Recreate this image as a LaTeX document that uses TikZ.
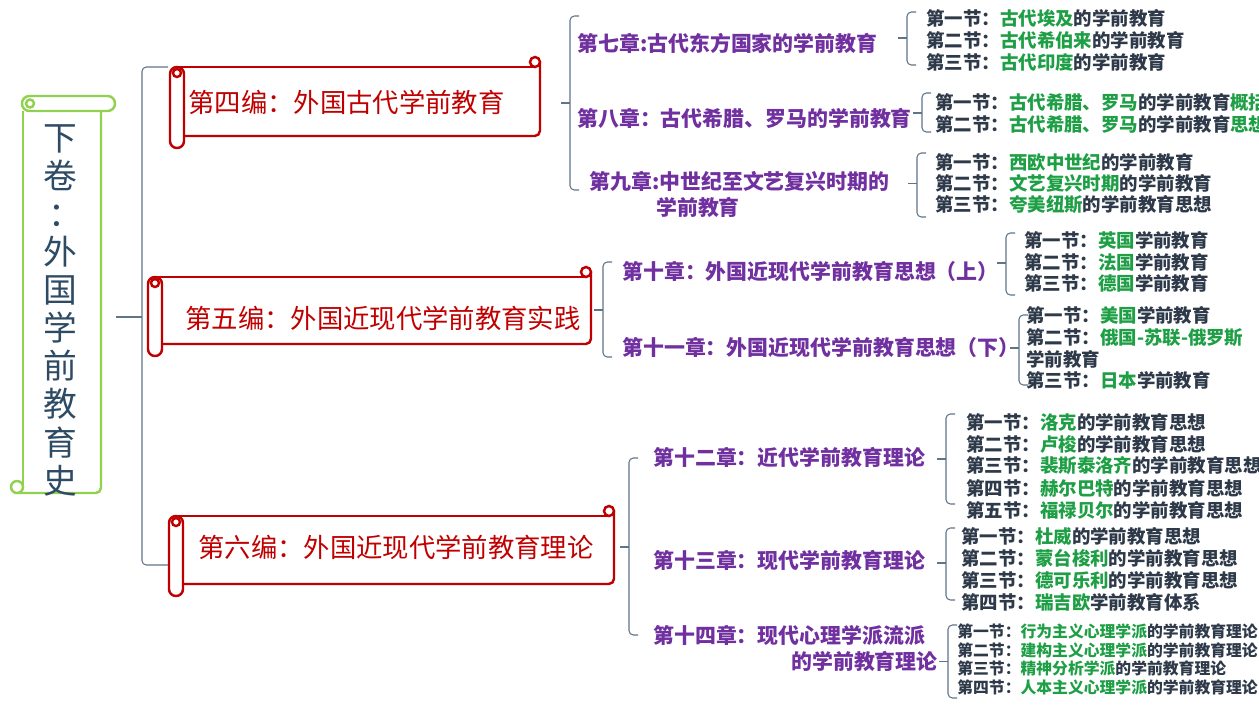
\documentclass[tikz,border=0pt]{standalone}
\usepackage{fontspec}
\setmainfont{Noto Sans CJK SC}
\usepackage{xcolor}
\usetikzlibrary{calc}

\definecolor{partred}{HTML}{C00000}
\definecolor{chappurple}{HTML}{7030A0}
\definecolor{secgray}{HTML}{2E3A4A}
\definecolor{hlgreen}{HTML}{1E9F45}
\definecolor{linkgray}{HTML}{5E7487}
\definecolor{scrollgreen}{HTML}{92D050}
\definecolor{titleblue}{HTML}{2D4B64}

\newcommand\hl[1]{\textcolor{hlgreen}{#1}}

% brace: [tick length]{parent}{tick dy}{brace x}{top y}{bottom y}
\newcommand\fork[6][9]{%
  \coordinate (tip) at ($(#2.east)+(0,#3)$);
  \draw[link] (tip -| #4-#1,0) -- (tip -| #4,0);
  \draw[link,rounded corners=2.5pt] (#4+#1,#5) -- (#4,#5) -- (#4,#6) -- (#4+#1,#6);}

% red scroll: {left}{top}{right}{bottom}
\newcommand\redscroll[4]{%
  \draw[scrollline=partred] (#1+7,#2) -- (#3-5,#2);
  \draw[scrollline=partred] (#3-5,#2-5) circle[radius=5];
  \draw[scrollline=partred,rounded corners=3pt] (#3,#2-5) -- (#3,#4) -- (#1+14,#4);
  \draw[scrollline=partred,fill=white,rounded corners=3.9pt] (#1,#2) rectangle (#1+14,#4+12);
  \draw[scrollline=partred] (#1+7,#2+6) circle[radius=4];}

\begin{document}
\begin{tikzpicture}[x=0.02cm,y=-0.02cm,
    link/.style={draw=linkgray,line width=0.6pt},
    scrollline/.style={draw=#1,line width=1.4pt},
    maintitle/.style={inner sep=0pt,align=center,text=titleblue,font=\fontsize{19.2}{21.7}\selectfont},
    part/.style={anchor=west,inner sep=0pt,text=partred,font=\fontsize{15}{18}\selectfont},
    chap/.style={anchor=west,inner sep=0pt,align=left,text=chappurple,font=\bfseries\fontsize{11.9}{14.8}\selectfont},
    sec/.style={anchor=west,inner sep=0pt,align=left,text=secgray,font=\bfseries\fontsize{10.5}{12.5}\selectfont},
    secsmall/.style={sec,font=\bfseries\fontsize{9}{10.6}\selectfont}]
    \useasboundingbox (0,0) rectangle (1259,707);

    % Main scroll
    \draw[scrollline=scrollgreen,rounded corners=3pt] (101,111) -- (101,493) -- (17,493);
    \draw[scrollline=scrollgreen] (23,111) -- (23,487);
    \draw[scrollline=scrollgreen] (17,487) circle[radius=6];
    \draw[scrollline=scrollgreen,fill=white,rounded corners=4.2pt] (22,96) rectangle (115,111);
    \draw[scrollline=scrollgreen] (30,103.5) circle[radius=4];
    \node[maintitle] (title) at (60,310) {下\\卷\\\hspace*{0.32em}：\hspace*{-0.32em}\\外\\国\\学\\前\\教\\育\\史};

    % Part scrolls
    \redscroll{170}{67}{540}{136}
    \redscroll{148}{277}{591}{344}
    \redscroll{169}{516}{614}{584}
    \node[part] (p4) at (188,102) {第四编：外国古代学前教育};
    \node[part] (p5) at (185,318) {第五编：外国近现代学前教育实践};
    \node[part] (p6) at (198,547) {第六编：外国近现代学前教育理论};

    % Chapters
    \node[chap] (c7) at (577,43) {第七章:古代东方国家的学前教育};
    \node[chap] (c8) at (577,118) {第八章：古代希腊、罗马的学前教育};
    \node[chap] (c9) at (589,194.5) {第九章:中世纪至文艺复兴时期的\\\hspace*{3.2em}学前教育};
    \node[chap] (c10) at (622,271) {第十章：外国近现代学前教育思想（上）};
    \node[chap] (c11) at (622,347) {第十一章：外国近现代学前教育思想（下）};
    \node[chap] (c12) at (653,457) {第十二章：近代学前教育理论};
    \node[chap] (c13) at (653,560) {第十三章：现代学前教育理论};
    \node[chap] (c14) at (653,648.5) {第十四章：现代心理学派流派\\\hspace*{6.6em}的学前教育理论};

    % Sections
    \node[sec] (s71) at (926,18) {第一节：\hl{古代埃及}的学前教育};
    \node[sec] (s72) at (926,40) {第二节：\hl{古代希伯来}的学前教育};
    \node[sec] (s73) at (926,62) {第三节：\hl{古代印度}的学前教育};
    \node[sec] (s81) at (935,102) {第一节：\hl{古代希腊、罗马}的学前教育\hl{概括}};
    \node[sec] (s82) at (935,124) {第二节：\hl{古代希腊、罗马}的学前教育\hl{思想}};
    \node[sec] (s91) at (935,162) {第一节：\hl{西欧中世纪}的学前教育};
    \node[sec] (s92) at (935,183) {第二节：\hl{文艺复兴时期}的学前教育};
    \node[sec] (s93) at (935,205) {第三节：\hl{夸美纽斯}的学前教育思想};
    \node[sec] (s101) at (1024,240) {第一节：\hl{英国}学前教育};
    \node[sec] (s102) at (1024,262) {第二节：\hl{法国}学前教育};
    \node[sec] (s103) at (1024,283) {第三节：\hl{德国}学前教育};
    \node[sec] (s111) at (1026,315) {第一节：\hl{美国}学前教育};
    \node[sec] (s112) at (1026,348) {第二节：\hl{俄国-苏联-俄罗斯}\\学前教育};
    \node[sec] (s113) at (1026,380) {第三节：\hl{日本}学前教育};
    \node[sec] (s121) at (966,422) {第一节：\hl{洛克}的学前教育思想};
    \node[sec] (s122) at (966,444) {第二节：\hl{卢梭}的学前教育思想};
    \node[sec] (s123) at (966,466) {第三节：\hl{裴斯泰洛齐}的学前教育思想};
    \node[sec] (s124) at (966,488) {第四节：\hl{赫尔巴特}的学前教育思想};
    \node[sec] (s125) at (966,510) {第五节：\hl{福禄贝尔}的学前教育思想};
    \node[sec] (s131) at (961,536) {第一节：\hl{杜威}的学前教育思想};
    \node[sec] (s132) at (961,558) {第二节：\hl{蒙台梭利}的学前教育思想};
    \node[sec] (s133) at (961,580) {第三节：\hl{德可乐利}的学前教育思想};
    \node[sec] (s134) at (961,602) {第四节：\hl{瑞吉欧}学前教育体系};
    \node[secsmall] (s141) at (957,631) {第一节：\hl{行为主义心理学派}的学前教育理论};
    \node[secsmall] (s142) at (957,650) {第二节：\hl{建构主义心理学派}的学前教育理论};
    \node[secsmall] (s143) at (957,668) {第三节：\hl{精神分析学派}的学前教育理论};
    \node[secsmall] (s144) at (957,687) {第四节：\hl{人本主义心理学派}的学前教育理论};

    % Braces
    \fork[26]{title}{7}{142}{67}{565}
    \fork{p4}{1}{570}{16}{190}
    \fork{p5}{-8}{603}{262}{357}
    \fork{p6}{0}{629}{458}{635}
    \fork{c7}{-5}{907}{12}{65}
    \fork{c8}{-5}{922}{93}{132}
    \fork{c9}{-11}{917}{153}{217}
    \fork{c10}{-8}{1006}{233}{295}
    \fork{c11}{1}{1019}{315}{385}
    \fork{c12}{2}{946}{414}{504}
    \fork{c13}{3}{946}{528}{600}
    \fork{c14}{13}{948}{625}{698}
\end{tikzpicture}
\end{document}
